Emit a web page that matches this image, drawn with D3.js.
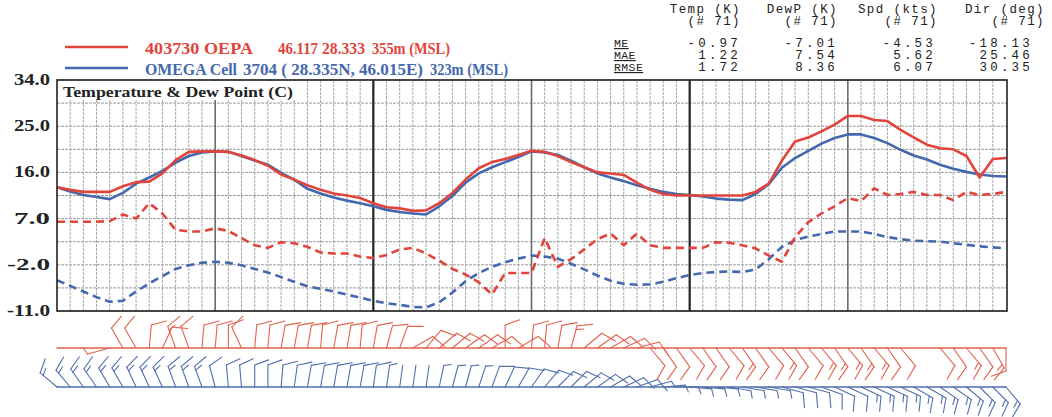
<!DOCTYPE html>
<html><head><meta charset="utf-8">
<script src="https://cdn.jsdelivr.net/npm/d3@7"></script>
<style>
html,body{margin:0;padding:0;background:#fff;}
svg{display:block;}
</style></head><body>
<svg id="chart" width="1052" height="417"></svg>
<script>
// ---- data: hourly values over three days (hour 0..72) ----
const hours = d3.range(0, 73);
const yTickValues = [34.0, 25.0, 16.0, 7.0, -2.0, -11.0];

// station 403730 OEPA (observed)
const obsTemp = [13.1,12.6,12.2,12.2,12.2,13.3,14.1,14.2,15.8,18.4,20.0,20.1,20.1,20.0,19.3,18.4,17.3,15.6,14.6,13.5,12.6,11.9,11.5,11.0,10.0,
  9.2,9.0,8.5,8.6,10.0,12.0,14.6,16.8,18.0,18.6,19.4,20.2,20.0,19.2,18.0,17.0,16.0,15.8,15.5,14.0,12.6,11.8,11.5,11.5,
  11.5,11.5,11.5,11.5,12.2,13.8,18.3,22.0,22.8,24.0,25.3,27.0,27.0,26.2,26.0,24.3,22.8,21.4,20.7,20.5,19.2,15.0,18.6,18.8];
const obsDew = [6.4,6.4,6.4,6.4,6.5,7.8,7.0,10.0,8.0,4.8,4.5,4.5,5.1,4.6,3.2,1.8,1.3,2.4,2.2,1.5,0.4,0.2,0.2,-0.4,-0.7,
  -0.1,1.0,1.3,0.2,-1.2,-2.8,-3.9,-5.4,-7.8,-3.6,-3.6,-3.6,3.2,-2.4,-0.9,1.0,3.0,4.1,1.8,4.1,1.8,1.3,1.3,1.3,
  1.3,2.4,2.3,1.8,1.2,-0.2,-1.4,3.4,6.3,8.0,9.4,11.0,10.4,12.9,11.6,11.8,12.2,11.6,11.6,10.6,12.2,11.6,11.8,12.2];

// OMEGA cell 3704 (model)
const modTemp = [13.1,12.3,11.6,11.2,10.8,12.0,13.8,15.0,16.3,17.9,19.2,19.9,20.1,20.0,19.2,18.3,17.5,15.9,14.6,12.8,11.9,11.1,10.5,10.0,9.4,
  8.7,8.3,8.0,7.8,9.4,11.4,14.0,15.8,17.0,18.0,19.0,20.1,19.9,19.4,18.3,17.0,15.8,15.0,14.3,13.5,12.8,12.2,11.8,11.6,
  11.3,10.9,10.7,10.6,11.8,13.7,16.9,18.8,20.2,21.6,22.7,23.4,23.4,22.7,21.7,20.4,19.3,18.5,17.5,16.7,16.1,15.6,15.3,15.2];
const modDew = [-5.0,-6.1,-7.2,-8.3,-9.2,-9.0,-7.2,-5.6,-4.2,-2.8,-2.1,-1.6,-1.4,-1.6,-2.1,-2.8,-3.5,-4.4,-5.3,-6.2,-6.7,-7.2,-7.8,-8.4,-9.0,
  -9.5,-9.8,-10.2,-10.3,-9.3,-7.4,-5.2,-3.6,-2.4,-1.5,-0.8,-0.2,-0.4,-0.8,-1.8,-2.9,-4.1,-5.1,-5.7,-5.9,-5.8,-5.3,-4.6,-4.0,
  -3.6,-3.4,-3.3,-3.4,-2.9,-0.9,1.5,2.8,3.5,4.0,4.5,4.5,4.5,4.0,3.4,3.0,2.7,2.6,2.5,2.2,1.9,1.6,1.4,1.2];

// wind direction (deg, from) and speed (kts); null = no report
const obsWindDir = [null,null,null,null,255,330,330,5,25,340,340,5,5,0,335,5,5,10,10,10,5,10,10,5,10,
  15,20,60,40,50,50,55,55,60,0,60,5,5,10,15,50,55,60,65,75,140,145,145,140,
  145,145,140,145,145,140,140,145,140,140,145,140,145,140,145,140,null,null,140,145,140,145,150,180];
const obsWindSpd = [null,null,null,null,5,10,10,10,10,15,10,10,10,10,10,10,10,10,10,10,10,10,10,10,10,
  10,10,10,10,10,10,10,10,10,10,10,10,10,10,15,10,10,10,10,10,10,10,10,10,
  10,10,10,15,10,10,15,10,10,15,15,15,15,15,10,10,null,null,10,10,15,10,15,10];
const modWindDir = [310,320,325,325,330,330,335,335,335,340,340,340,345,355,355,0,0,5,8,10,10,10,10,10,8,
  8,8,8,8,12,15,15,18,20,25,30,35,40,45,45,50,55,60,65,70,75,85,90,95,
  95,95,100,100,100,100,105,105,105,110,115,115,115,115,115,115,120,120,125,125,130,135,135,140];
const modWindSpd = [15,15,15,15,15,15,15,15,15,15,15,15,10,10,10,10,10,10,10,10,10,10,10,10,10,
  5,2,2,2,5,5,5,5,10,10,10,10,10,10,10,10,10,10,10,10,5,5,5,5,
  5,5,5,5,5,5,10,10,10,10,10,10,15,15,15,15,15,15,15,15,15,15,15,15];

// verification statistics
const statHeaders = ["Temp (K)", "DewP (K)", "Spd (kts)", "Dir (deg)"];
const statCounts = ["(# 71)", "(# 71)", "(# 71)", "(# 71)"];
const statNames = ["ME", "MAE", "RMSE"];
const statME = ["-0.97", "-7.01", "-4.53", "-18.13"];
const statMAE = ["1.22", "7.54", "5.62", "25.46"];
const statRMSE = ["1.72", "8.36", "6.07", "30.35"];

// ---- drawing ----
const RED = "#e0443a", BLUE = "#4468ad";
const RED_BARB = "#e2624f", BLUE_BARB = "#4f6fae";
const svg = d3.select("#chart");
const plot = {left: 57, right: 1007, top: 80, bottom: 311};

const x = d3.scaleLinear().domain([0, 72]).range([plot.left, plot.right - 1]);
const y = d3.scaleLinear().domain([-11, 34]).range([plot.bottom, plot.top]);

// grid: horizontal every 4.5 deg, vertical every hour
const gGrid = svg.append("g");
gGrid.selectAll("line.h").data(d3.range(-11, 34.01, 4.5)).join("line")
  .attr("x1", plot.left).attr("x2", plot.right)
  .attr("y1", d => y(d)).attr("y2", d => y(d))
  .attr("stroke", "#9a9a9a").attr("stroke-width", 1).attr("stroke-dasharray", "3,1");
gGrid.selectAll("line.v").data(hours.filter(h => h % 24 !== 0)).join("line")
  .attr("x1", d => x(d)).attr("x2", d => x(d))
  .attr("y1", plot.top).attr("y2", plot.bottom)
  .attr("stroke", d => d % 12 === 0 ? "#6a6a6a" : "#a8a8a8")
  .attr("stroke-width", d => d % 12 === 0 ? 1.6 : 1)
  .attr("stroke-dasharray", d => d % 12 === 0 ? null : "3,1");
// day boundaries
gGrid.selectAll("line.day").data([24, 48]).join("line")
  .attr("x1", d => x(d)).attr("x2", d => x(d))
  .attr("y1", plot.top).attr("y2", plot.bottom)
  .attr("stroke", "#222").attr("stroke-width", 2.2);

// title box
svg.append("rect").attr("x", plot.left + 1).attr("y", plot.top + 1)
  .attr("width", 240).attr("height", 19).attr("fill", "#fff");
svg.append("text").attr("x", 63).attr("y", 97)
  .attr("font-family", "Liberation Serif, serif").attr("font-weight", "bold")
  .attr("font-size", 15).attr("textLength", 230).attr("lengthAdjust", "spacingAndGlyphs")
  .attr("fill", "#222").text("Temperature & Dew Point (C)");

// series lines
const line = data => d3.line().x((d, i) => x(hours[i])).y(d => y(d))(data);
const series = [
  {data: modDew, color: BLUE, dash: "8,5"},
  {data: obsDew, color: RED, dash: "8,5"},
  {data: modTemp, color: BLUE, dash: null},
  {data: obsTemp, color: RED, dash: null}
];
svg.append("g").selectAll("path").data(series).join("path")
  .attr("d", s => line(s.data)).attr("fill", "none")
  .attr("stroke", s => s.color).attr("stroke-width", 2.6)
  .attr("stroke-dasharray", s => s.dash).attr("stroke-linejoin", "round");

// frame
svg.append("rect").attr("x", plot.left).attr("y", plot.top)
  .attr("width", plot.right - plot.left).attr("height", plot.bottom - plot.top)
  .attr("fill", "none").attr("stroke", "#222").attr("stroke-width", 1.6);

// y axis labels
svg.append("g").selectAll("text").data(yTickValues).join("text")
  .attr("x", 50).attr("y", d => y(d) + 5).attr("text-anchor", "end")
  .attr("font-family", "Liberation Serif, serif").attr("font-weight", "bold")
  .attr("font-size", 16).attr("fill", "#222")
  .attr("textLength", d => d < 0 ? 43 : 36).attr("lengthAdjust", "spacingAndGlyphs")
  .text(d => d.toFixed(1));

// legend
const legend = [
  {color: RED, ly: 47, ty: 54, parts: [["403730 OEPA", 145, 108], ["46.117", 278, 40], ["28.333", 322, 43], ["355m (MSL)", 372, 78]]},
  {color: BLUE, ly: 68, ty: 75, parts: [["OMEGA Cell", 145, 92], ["3704 ( 28.335N, 46.015E)", 243, 180], ["323m (MSL)", 430, 78]]}
];
legend.forEach(l => {
  svg.append("line").attr("x1", 65).attr("x2", 128).attr("y1", l.ly).attr("y2", l.ly)
    .attr("stroke", l.color).attr("stroke-width", 2.5);
  l.parts.forEach(p => {
    svg.append("text").attr("x", p[1]).attr("y", l.ty)
      .attr("font-family", "Liberation Serif, serif").attr("font-weight", "bold")
      .attr("font-size", 17).attr("fill", l.color)
      .attr("textLength", p[2]).attr("lengthAdjust", "spacingAndGlyphs").text(p[0]);
  });
});

// statistics table
const mono = "Liberation Mono, DejaVu Sans Mono, monospace";
const colRight = [741, 838, 938, 1045];
const valRight = [741, 838, 936, 1033];
const gStat = svg.append("g").attr("font-family", mono).attr("fill", "#222");
statHeaders.forEach((h, j) => {
  gStat.append("text").attr("x", colRight[j]).attr("y", 13).attr("text-anchor", "end")
    .attr("font-size", 12.5).attr("letter-spacing", 1.4).text(h);
  gStat.append("text").attr("x", colRight[j]).attr("y", 25).attr("text-anchor", "end")
    .attr("font-size", 12.5).attr("letter-spacing", 1.4).text(statCounts[j]);
});
[statME, statMAE, statRMSE].forEach((row, r) => {
  const ty = 47 + r * 12;
  gStat.append("text").attr("x", 614).attr("y", ty).attr("text-decoration", "underline")
    .attr("font-size", 11.5).attr("letter-spacing", 0.4).text(statNames[r]);
  row.forEach((v, j) => {
    gStat.append("text").attr("x", valRight[j]).attr("y", ty).attr("text-anchor", "end")
      .attr("font-size", 12.5).attr("letter-spacing", 3.2).text(v);
  });
});

// wind barbs
function drawBarb(g, x0, y0, dir, spd, len) {
  const a = dir * Math.PI / 180;
  const ux = Math.sin(a), uy = -Math.cos(a);
  const tx = x0 + ux * len, ty = y0 + uy * len;
  g.append("line").attr("x1", x0).attr("y1", y0).attr("x2", tx).attr("y2", ty);
  const b = (dir + 70) * Math.PI / 180;
  const bx = Math.sin(b), by = -Math.cos(b);
  const full = len * 0.68;
  const n10 = Math.floor(spd / 10);
  const n5 = (spd % 10) >= 5 ? 1 : 0;
  let pos = 0;
  const feather = l => {
    const px = tx - ux * pos, py = ty - uy * pos;
    g.append("line").attr("x1", px).attr("y1", py)
      .attr("x2", px + bx * l).attr("y2", py + by * l);
    pos += 4;
  };
  for (let k = 0; k < n10; k++) feather(full);
  for (let k = 0; k < n5; k++) feather(full / 2);
}

const barbRows = [
  {dir: obsWindDir, spd: obsWindSpd, base: 348, color: RED_BARB, len: 23},
  {dir: modWindDir, spd: modWindSpd, base: 387, color: BLUE_BARB, len: 22}
];
barbRows.forEach(row => {
  const g = svg.append("g").attr("stroke", row.color).attr("stroke-width", 1.1)
    .attr("fill", "none").attr("stroke-linecap", "round");
  g.append("line").attr("x1", x(0)).attr("x2", x(72)).attr("y1", row.base).attr("y2", row.base)
    .attr("stroke-width", 1.5);
  hours.forEach((h, i) => {
    if (row.dir[i] === null) return;
    drawBarb(g, x(h), row.base, row.dir[i], row.spd[i], row.len);
  });
});
</script>
</body></html>
